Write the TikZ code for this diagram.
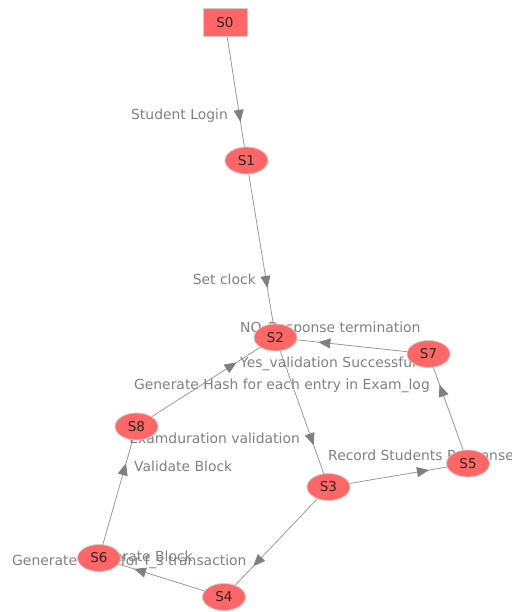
\documentclass[tikz,border=0pt]{standalone}
\usepackage{fontspec}
\setmainfont{DejaVu Sans}
\usetikzlibrary{shapes.geometric,arrows.meta,decorations.markings}
\pgfdeclarelayer{background}
\pgfdeclarelayer{labels}
\pgfsetlayers{background,labels,main}
\definecolor{nodefill}{HTML}{FF6666}
\definecolor{nodeline}{HTML}{D8C8C8}
\definecolor{edgecol}{HTML}{999999}
\definecolor{tipcol}{HTML}{808080}
\definecolor{labcol}{HTML}{808080}
\begin{document}
\begin{tikzpicture}[x=1pt,y=-1pt,
  statebox/.style={ellipse,draw=nodeline,line width=0.8pt,fill=nodefill,minimum width=43pt,minimum height=27pt,inner sep=0pt,font=\fontsize{13.5}{15}\selectfont,text=black!85},
  startbox/.style={rectangle,draw=nodeline,line width=0.8pt,fill=nodefill,minimum width=44pt,minimum height=28pt,inner sep=0pt,font=\fontsize{13.5}{15}\selectfont,text=black!85},
  edgelab/.style={inner sep=0pt,text=labcol,font=\fontsize{13.9}{15}\selectfont},
  flow/.style={draw=edgecol,line width=0.8pt,postaction={decorate},
    decoration={markings,mark=at position 0.72 with {\arrow[tipcol]{Triangle[length=12pt,width=10pt]}}}}
]
\useasboundingbox (0,0) rectangle (511,612);
\node[startbox] (s0) at (225,22.5) {S0};
\node[statebox] (s1) at (246.5,160.5) {S1};
\node[statebox] (s2) at (275.5,337.5) {S2};
\node[statebox] (s7) at (428.5,354) {S7};
\node[statebox] (s8) at (136.5,426.5) {S8};
\node[statebox] (s3) at (328.5,487) {S3};
\node[statebox] (s5) at (468,463.5) {S5};
\node[statebox] (s6) at (99,558) {S6};
\node[statebox] (s4) at (224,597) {S4};
\begin{pgfonlayer}{background}
\path[flow] (s0.center) -- (s1.center);
\path[flow] (s1.center) -- (s2.center);
\path[flow] (s2.center) -- (s3.center);
\path[flow] (s3.center) -- (s5.center);
\path[flow] (s5.center) -- (s7.center);
\path[flow] (s7.center) -- (s2.center);
\path[flow] (s8.center) -- (s2.center);
\path[flow] (s6.center) -- (s8.center);
\path[flow] (s3.center) -- (s4.center);
\path[flow] (s4.center) -- (s6.center);
\end{pgfonlayer}
\begin{pgfonlayer}{labels}
\node[edgelab,anchor=east] (l01) at (228,116) {Student Login};
\node[edgelab,anchor=east] (l12) at (256,279) {Set clock};
\node[edgelab,anchor=east] (l23) at (300,438) {Examduration validation};
\node[edgelab,anchor=west] (l35) at (328,457) {Record Students Response};
\node[edgelab,anchor=east] (l57) at (430,386) {Generate Hash for each entry in Exam\_log};
\node[edgelab,anchor=west] (l72) at (240,329) {NO\_Response termination};
\node[edgelab,anchor=west] (l82) at (240,364) {Yes\_validation Successful};
\node[edgelab,anchor=west] (l68) at (134,466) {Validate Block};
\node[edgelab,anchor=west] (l34) at (12,562) {Generate Hash for f\_s transaction};
\node[edgelab,anchor=east] (l46) at (193,556) {Generate Block};
\end{pgfonlayer}
\end{tikzpicture}
\end{document}
